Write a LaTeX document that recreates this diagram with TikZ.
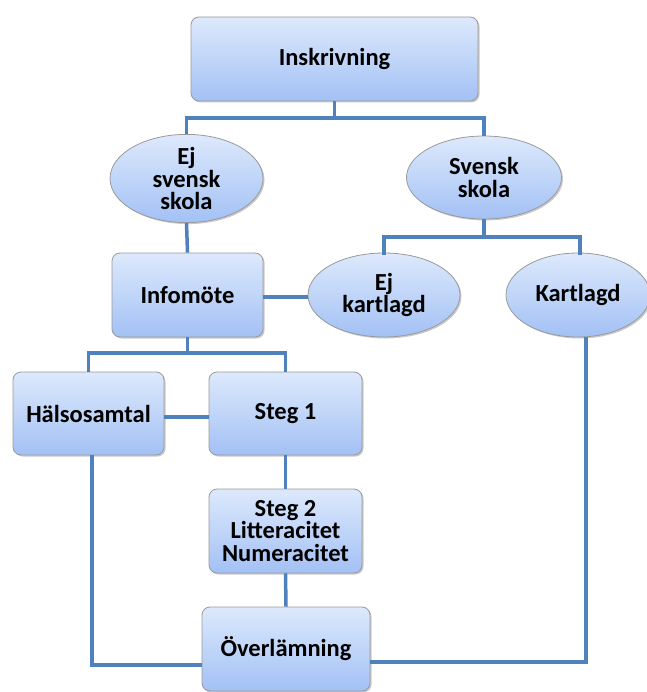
\documentclass[tikz,border=0pt]{standalone}
\usepackage{fontspec}
\setmainfont{Carlito}
\usetikzlibrary{shapes.geometric,shadows}
\definecolor{linkblue}{HTML}{4F81BD}
\definecolor{boxtop}{HTML}{DDE9FC}
\definecolor{boxbot}{HTML}{A3C1F5}
\definecolor{boxedge}{HTML}{9A9A9A}
\tikzset{
  base/.style={draw=boxedge, line width=0.8pt, top color=boxtop, bottom color=boxbot,
    drop shadow={shadow xshift=1.5pt, shadow yshift=-1.5pt, fill=black!35, opacity=0.6},
    font=\fontsize{24.5}{22.5}\selectfont\bfseries, align=center, inner sep=0pt},
  boxnode/.style={base, rectangle, rounded corners=8pt},
  ellnode/.style={base, ellipse},
  link/.style={draw=linkblue, line width=3.5pt}
}
\begin{document}
\begin{tikzpicture}[x=1pt,y=-1pt]
\useasboundingbox (0,0) rectangle (646,692);
\node[boxnode, minimum width=287pt, minimum height=84pt] (ins) at (334.5,59) {Inskrivning};
\node[ellnode, minimum width=153pt, minimum height=83pt] (ejs) at (186.5,178.5) {Ej\\svensk\\skola};
\node[ellnode, minimum width=155pt, minimum height=83pt] (sv) at (484,177.5) {Svensk\\skola};
\node[boxnode, minimum width=151pt, minimum height=84pt] (info) at (187.5,295) {Infomöte};
\node[ellnode, minimum width=152pt, minimum height=84pt] (ejk) at (384,295) {Ej\\kartlagd};
\node[ellnode, minimum width=144pt, minimum height=84pt] (kart) at (578,295) {Kartlagd};
\node[boxnode, minimum width=151pt, minimum height=83pt] (hals) at (88.5,413.5) {Hälsosamtal};
\node[boxnode, minimum width=153pt, minimum height=83pt] (s1) at (285.5,413.5) {Steg 1};
\node[boxnode, minimum width=153pt, minimum height=84pt] (s2) at (285.5,531) {Steg 2\\Litteracitet\\Numeracitet};
\node[boxnode, minimum width=168pt, minimum height=84pt] (ov) at (286,649) {Överlämning};

\coordinate (j1) at (334.5,118);
\coordinate (j2) at (484,237);
\coordinate (j3) at (187.5,353);
\coordinate (hl) at (92,665);
\coordinate (ovr) at (370,662);

\draw[link] (ins.south) -- (j1);
\draw[link] (j1) -| (ejs.north);
\draw[link] (j1) -| (sv.north);
\draw[link] (ejs.south) -- (info.north);
\draw[link] (sv.south) -- (j2);
\draw[link] (j2) -| (384,255);
\draw[link] (j2) -| (580,255);
\draw[link] (info.east |- 0,297) -- (ejk.west |- 0,297);
\draw[link] (info.south) -- (j3);
\draw[link] (j3) -| (hals.north);
\draw[link] (j3) -| (s1.north);
\draw[link] (hals.east |- 0,417) -- (s1.west |- 0,417);
\draw[link] (s1.south) -- (s2.north);
\draw[link] (s2.south) -- (ov.north);
\draw[link] (hals.south -| hl) -- (hl) -- (ov.west |- hl);
\draw[link] (ovr) -| (kart.south -| 586,0);
\end{tikzpicture}
\end{document}
